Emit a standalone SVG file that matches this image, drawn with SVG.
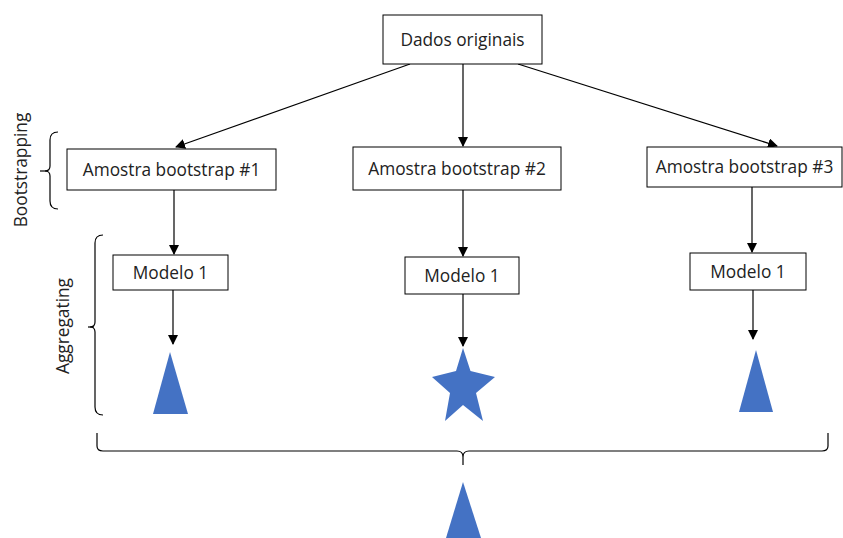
<svg xmlns="http://www.w3.org/2000/svg" width="843" height="538" viewBox="0 0 843 538">
<defs>
<style>
.box{fill:#fff;stroke:#000;stroke-width:1}
.t{font-family:"Open Sans","Liberation Sans",sans-serif;font-size:17.3px;fill:#222;text-anchor:middle;dominant-baseline:central}
.c{stroke:#000;stroke-width:1.2;fill:none}
.br{stroke:#000;stroke-width:1.2;fill:none}
.shape{fill:#4472C4}
</style>
<marker id="ah" markerWidth="10" markerHeight="10" refX="9" refY="5" orient="auto" markerUnits="userSpaceOnUse">
<path d="M0,0 L10,5 L0,10 Z" fill="#000"/>
</marker>
</defs>
<rect width="843" height="538" fill="#fff"/>
<g id="connectors">
<line class="c" x1="463" y1="64" x2="463" y2="146" marker-end="url(#ah)"/>
<line class="c" x1="410" y1="64" x2="176" y2="147" marker-end="url(#ah)"/>
<line class="c" x1="518" y1="64" x2="777" y2="146" marker-end="url(#ah)"/>
<line class="c" x1="174" y1="190" x2="174" y2="254" marker-end="url(#ah)"/>
<line class="c" x1="463" y1="190" x2="463" y2="256" marker-end="url(#ah)"/>
<line class="c" x1="752" y1="187" x2="752" y2="252" marker-end="url(#ah)"/>
<line class="c" x1="173" y1="290" x2="173" y2="344" marker-end="url(#ah)"/>
<line class="c" x1="463" y1="294" x2="463" y2="346" marker-end="url(#ah)"/>
<line class="c" x1="753" y1="290" x2="753" y2="339" marker-end="url(#ah)"/>
</g>
<g id="dados"><rect class="box" x="383" y="15" width="159" height="49"/><text class="t" x="462.5" y="39">Dados originais</text></g>
<g id="amostra1"><rect class="box" x="67" y="149" width="209" height="41"/><text class="t" x="171.5" y="169">Amostra bootstrap #1</text></g>
<g id="amostra2"><rect class="box" x="353" y="147" width="208" height="43"/><text class="t" x="457" y="168">Amostra bootstrap #2</text></g>
<g id="amostra3"><rect class="box" x="647" y="147" width="195" height="40"/><text class="t" x="744.5" y="166.5">Amostra bootstrap #3</text></g>
<g id="modelo1"><rect class="box" x="113" y="255" width="115" height="35"/><text class="t" x="170.5" y="272">Modelo 1</text></g>
<g id="modelo2"><rect class="box" x="405" y="257" width="114" height="37"/><text class="t" x="462" y="275">Modelo 1</text></g>
<g id="modelo3"><rect class="box" x="690" y="253" width="116" height="37"/><text class="t" x="748" y="271">Modelo 1</text></g>
<g id="result1"><polygon class="shape" points="170,352 153,414 188,414"/></g>
<g id="result2"><polygon class="shape" points="463,348 470.5,371 495,377 476,393 483,421 463,405 445,421 450,393 432,377 456,371"/></g>
<g id="result3"><polygon class="shape" points="756,350 739,412 773,412"/></g>
<g id="final"><polygon class="shape" points="463,482 446,538 481,538"/></g>
<g id="bootstrapping">
<path class="br" d="M58,132 Q50,132 50,140 L50,166 Q50,171 45,171 Q50,171 50,176 L50,201 Q50,209 58,209"/>
<line class="br" x1="40" y1="171" x2="48" y2="171"/>
<text class="t" transform="translate(20,170) rotate(-90)" x="0" y="0">Bootstrapping</text>
</g>
<g id="aggregating">
<path class="br" d="M103,235 Q95,235 95,243 L95,322 Q95,327 90,327 Q95,327 95,332 L95,407 Q95,415 103,415"/>
<line class="br" x1="88" y1="327" x2="94" y2="327"/>
<text class="t" transform="translate(62,326) rotate(-90)" x="0" y="0">Aggregating</text>
</g>
<g id="final-brace">
<path class="br" d="M97,433 L97,446 Q97,451 103,451 L457,451 Q463,451 463,457 L463,465 M463,457 Q463,451 469,451 L822,451 Q828,451 828,446 L828,433"/>
</g>
</svg>
